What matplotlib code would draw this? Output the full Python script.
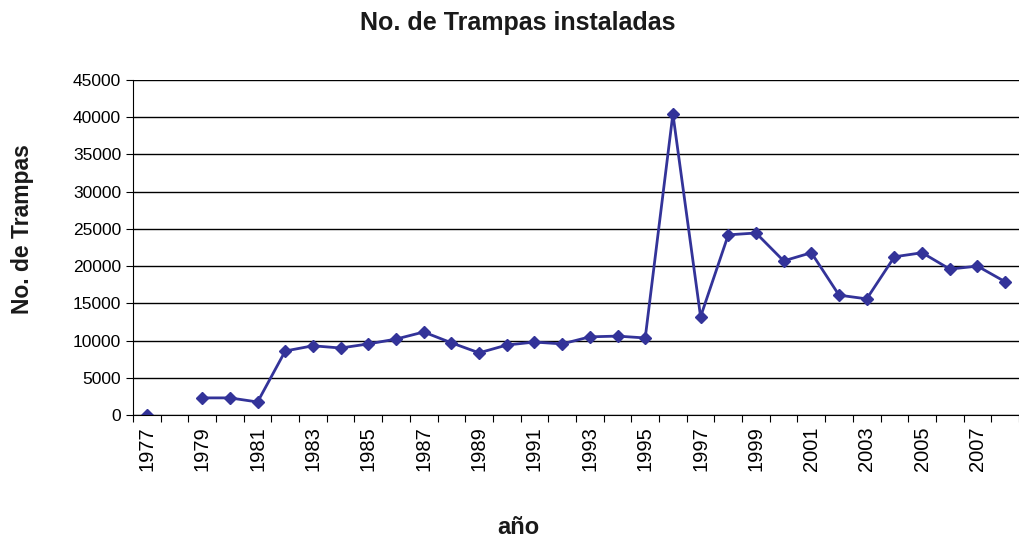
import numpy as np
import matplotlib.pyplot as plt

plt.rcParams['font.family'] = ['Liberation Sans', 'DejaVu Sans']

years = list(range(1977, 2009))
trampas = [0, np.nan, 2300, 2300, 1750, 8600, 9300, 9000, 9550, 10200,
           11150, 9700, 8350, 9400, 9800, 9550, 10500, 10600, 10350, 40450,
           13200, 24200, 24450, 20700, 21800, 16100, 15600, 21250, 21800, 19600,
           20000, 17900]
yticks = list(range(0, 45001, 5000))

fig = plt.figure(figsize=(10.19, 5.38), dpi=100)
ax = fig.add_axes([0.1305, 0.2286, 0.8695, 0.6227])

x = np.arange(len(years))
ax.plot(x, trampas, color="#333399", linewidth=2, marker="D", markersize=6)

ax.set_xlim(-0.5, len(years) - 0.5)
ax.set_ylim(0, 45000)
ax.set_yticks(yticks)
ax.set_yticklabels([str(v) for v in yticks], fontsize=12.5)
ax.yaxis.grid(True, color="black", linewidth=1)
ax.set_axisbelow(True)

# ticks between categories, labels every other year
ax.set_xticks(np.arange(-0.5, len(years), 1))
ax.set_xticklabels([])
ax.set_xticks(x[::2], minor=True)
ax.set_xticklabels([str(y) for y in years[::2]], minor=True, rotation=90, fontsize=14.5)
ax.tick_params(axis="x", which="minor", length=0, pad=8)
ax.tick_params(axis="x", which="major", length=5, color="black")
ax.tick_params(axis="y", length=5, color="black")

for s in ["top", "right"]:
    ax.spines[s].set_visible(False)
ax.spines["left"].set_color("black")
ax.spines["bottom"].set_color("black")

fig.text(0.508, 0.958, "No. de Trampas instaladas", ha="center", va="center",
         fontsize=18, fontweight="bold", color="#1a1a1a")
fig.text(0.022, 0.574, "No. de Trampas", ha="center", va="center", rotation=90,
         fontsize=16.5, fontweight="bold", color="#1a1a1a")
fig.text(0.509, 0.02, "año", ha="center", va="center", fontsize=17,
         fontweight="bold", color="#1a1a1a", transform=fig.transFigure)
fig.texts[-1].set_position((0.509, 1 - 527 / 538))

fig.savefig("out.png", dpi=100)
